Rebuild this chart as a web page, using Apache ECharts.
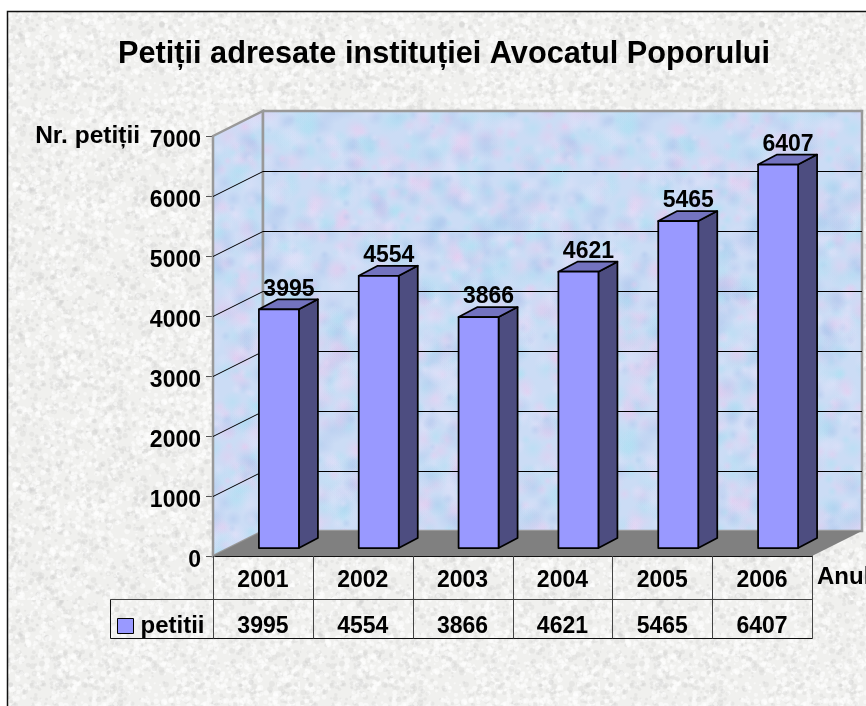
<!DOCTYPE html>
<html>
<head>
<meta charset="utf-8">
<title>Petiții</title>
<script src="https://cdn.jsdelivr.net/npm/echarts@6/dist/echarts.min.js"></script>
<style>
  html, body { margin: 0; padding: 0; background: #fff; overflow: hidden; }
  #chart { width: 866px; height: 706px; }
</style>
</head>
<body>
<div id="chart"></div>
<script>
// values
const years = ['2001', '2002', '2003', '2004', '2005', '2006']
const petitii = [3995, 4554, 3866, 4621, 5465, 6407]
const gridTicks = [1000, 2000, 3000, 4000, 5000, 6000]

const FONT = '"Liberation Sans", Arial, sans-serif'
// depth of the 3d box, px
const DEPTH_X = 50
const DEPTH_Y = 25

// textures are plain decoration, a fixed LCG keeps them the same on every run
function makeRand(seed) {
  let s = seed
  return () => {
    s = (s * 1664525 + 1013904223) % 4294967296
    return s / 4294967296
  }
}

function paperTexture() {
  const rand = makeRand(7)
  const c = document.createElement('canvas')
  c.width = c.height = 300
  const ctx = c.getContext('2d')
  ctx.fillStyle = '#f0f0ee'
  ctx.fillRect(0, 0, 300, 300)
  for (let i = 0; i < 5000; i++) {
    const x = rand() * 300
    const y = rand() * 300
    const r = 1 + rand() * 2
    ctx.fillStyle = rand() > 0.45 ? 'rgba(255,255,255,0.5)' : 'rgba(205,205,203,0.28)'
    ctx.beginPath()
    ctx.arc(x, y, r, 0, 6.3)
    ctx.fill()
  }
  return c
}

function wallTexture() {
  const rand = makeRand(23)
  const size = 320
  const c = document.createElement('canvas')
  c.width = c.height = size
  const ctx = c.getContext('2d')
  ctx.fillStyle = '#cbdcf5'
  ctx.fillRect(0, 0, size, size)
  const tints = ['170,225,242', '235,200,238', '170,195,235', '230,226,250']
  for (let i = 0; i < 1100; i++) {
    const x = rand() * size
    const y = rand() * size
    const r = 4 + rand() * 11
    const t = tints[Math.floor(rand() * tints.length)]
    // draw wrapped so the tile has no seam
    for (const ox of [-size, 0, size]) {
      for (const oy of [-size, 0, size]) {
        const g = ctx.createRadialGradient(x + ox, y + oy, 0, x + ox, y + oy, r)
        g.addColorStop(0, 'rgba(' + t + ',0.42)')
        g.addColorStop(1, 'rgba(' + t + ',0)')
        ctx.fillStyle = g
        ctx.fillRect(x + ox - r, y + oy - r, r * 2, r * 2)
      }
    }
  }
  return c
}

const paper = { image: paperTexture(), repeat: 'repeat' }
const wall = { image: wallTexture(), repeat: 'repeat' }

const chart = echarts.init(document.getElementById('chart'), null, { renderer: 'canvas' })

// side wall, back wall and floor, built from the axis scale
function renderWalls(params, api) {
  const top = api.coord([0, 7000])
  const zero = api.coord([0, 0])
  const g = params.coordSys
  const l = g.x
  const r = g.x + g.width
  const edge = { stroke: '#999999', lineWidth: 2.5 }
  return {
    type: 'group',
    children: [
      { type: 'polygon', shape: { points: [[l, top[1]], [l + DEPTH_X, top[1] - DEPTH_Y], [l + DEPTH_X, zero[1] - DEPTH_Y], [l, zero[1]]] }, style: { fill: wall, ...edge } },
      { type: 'rect', shape: { x: l + DEPTH_X, y: top[1] - DEPTH_Y, width: g.width, height: zero[1] - top[1] }, style: { fill: wall, ...edge } },
      { type: 'polygon', shape: { points: [[l, zero[1]], [r, zero[1]], [r + DEPTH_X, zero[1] - DEPTH_Y], [l + DEPTH_X, zero[1] - DEPTH_Y]] }, style: { fill: '#808080' } }
    ]
  }
}

function renderGridLine(params, api) {
  // half pixel so the back wall lines stay one crisp black row
  const y = Math.round(api.coord([0, api.value(1)])[1]) + 0.5
  const g = params.coordSys
  return {
    type: 'polyline',
    shape: { points: [[g.x, y], [g.x + DEPTH_X, y - DEPTH_Y], [g.x + g.width + DEPTH_X, y - DEPTH_Y]] },
    style: { stroke: '#000', lineWidth: 1, fill: null }
  }
}

function renderBar(params, api) {
  const p = api.coord([api.value(0), api.value(1)])
  const zero = api.coord([api.value(0), 0])[1] - 8
  const x = p[0] + 16 - 20
  const w = 40
  const y = p[1] - 7
  const dx = 19
  const dy = 10
  const line = { stroke: '#000', lineWidth: 1.75, lineJoin: 'round' }
  return {
    type: 'group',
    children: [
      { type: 'polygon', shape: { points: [[x + w, y], [x + w + dx, y - dy], [x + w + dx, zero - dy], [x + w, zero]] }, style: { fill: '#4d4d80', ...line } },
      { type: 'polygon', shape: { points: [[x, y], [x + dx, y - dy], [x + w + dx, y - dy], [x + w, y]] }, style: { fill: '#7373bf', ...line } },
      { type: 'rect', shape: { x, y, width: w, height: zero - y }, style: { fill: '#9999ff', ...line } },
      { type: 'text', x: p[0] + 26, y: y - 20, style: { text: String(api.value(1)), font: 'bold 23px ' + FONT, fill: '#000', align: 'center', verticalAlign: 'middle' } }
    ]
  }
}

// data table under the axis
function renderTableCell(params, api) {
  const i = api.value(0)
  const band = api.size([1, 0])[0]
  const c = api.coord([i, 0])
  const left = Math.round(c[0] - band / 2) + 0.5
  const right = Math.round(c[0] + band / 2) + 0.5
  const zero = c[1]
  const rowA = zero + 43.5
  const rowB = zero + 82.5
  const s = { stroke: '#444', lineWidth: 1 }
  const dark = { stroke: '#111', lineWidth: 1 }
  const children = [
    { type: 'line', shape: { x1: left, y1: zero, x2: left, y2: rowB }, style: s },
    { type: 'line', shape: { x1: right, y1: zero, x2: right, y2: rowB }, style: s },
    { type: 'line', shape: { x1: left, y1: rowA, x2: right, y2: rowA }, style: s },
    { type: 'line', shape: { x1: left, y1: rowB, x2: right, y2: rowB }, style: dark },
    { type: 'text', x: c[0], y: zero + 71, style: { text: String(api.value(1)), font: 'bold 23px ' + FONT, fill: '#000', align: 'center', verticalAlign: 'middle' } }
  ]
  if (i === 0) {
    children.push(
      { type: 'line', shape: { x1: 110.5, y1: rowA, x2: left, y2: rowA }, style: s },
      { type: 'line', shape: { x1: 110.5, y1: rowB, x2: left, y2: rowB }, style: dark },
      { type: 'line', shape: { x1: 110.5, y1: rowA, x2: 110.5, y2: rowB }, style: dark }
    )
  }
  return { type: 'group', children }
}

chart.setOption({
  animation: false,
  backgroundColor: '#fff',
  graphic: [
    { type: 'rect', z: -10, shape: { x: 8, y: 12, width: 858, height: 694 }, style: { fill: paper } },
    { type: 'polyline', z: -9, shape: { points: [[7.5, 706], [7.5, 11.5], [866, 11.5]] }, style: { stroke: '#111', lineWidth: 1.5, fill: null } }
  ],
  title: {
    text: 'Petiții adresate instituției Avocatul Poporului',
    left: 439,
    top: 34,
    textAlign: 'center',
    textStyle: { fontFamily: FONT, fontWeight: 'bold', fontSize: 30.7, color: '#000' }
  },
  legend: {
    data: ['petitii'],
    left: 117,
    top: 614,
    padding: 0,
    icon: 'rect',
    itemWidth: 16,
    itemHeight: 15,
    textStyle: { fontFamily: FONT, fontWeight: 'bold', fontSize: 24, color: '#000', padding: [0, 0, 0, 2] },
    itemStyle: { color: '#9999ff', borderColor: '#000', borderWidth: 1 }
  },
  grid: { left: 213, right: 54, top: 136, bottom: 150, outerBoundsMode: 'none' },
  xAxis: {
    type: 'category',
    data: years,
    name: 'Anul',
    nameLocation: 'end',
    nameGap: 5,
    nameMoveOverlap: false,
    nameTextStyle: { fontFamily: FONT, fontWeight: 'bold', fontSize: 24, color: '#000', verticalAlign: 'top', padding: [9, 0, 0, 0] },
    axisLine: { show: true, lineStyle: { color: '#111', width: 2 } },
    axisTick: { show: false },
    axisLabel: { margin: 13, fontFamily: FONT, fontWeight: 'bold', fontSize: 23, color: '#000' }
  },
  yAxis: {
    type: 'value',
    min: 0,
    max: 7000,
    interval: 1000,
    name: 'Nr. petiții',
    nameLocation: 'end',
    nameGap: 0,
    nameMoveOverlap: false,
    nameTextStyle: { fontFamily: FONT, fontWeight: 'bold', fontSize: 24.5, color: '#000', align: 'right', verticalAlign: 'middle', padding: [0, 73, 0, 0] },
    axisLine: { show: true, lineStyle: { color: '#333', width: 1 } },
    axisTick: { show: true, length: 7, lineStyle: { color: '#555' } },
    // labels sit a little below their tick, a short top aligned line box does that
    axisLabel: { margin: 12, verticalAlign: 'top', lineHeight: 10, formatter: v => String(v), fontFamily: FONT, fontWeight: 'bold', fontSize: 23, color: '#000' },
    splitLine: { show: false }
  },
  series: [
    { type: 'custom', name: 'walls', silent: true, z: 1, renderItem: renderWalls, data: [[0, 0]] },
    { type: 'custom', name: 'grid', silent: true, z: 2, renderItem: renderGridLine, data: gridTicks.map(v => [0, v]) },
    { type: 'custom', name: 'table', silent: true, z: 3, renderItem: renderTableCell, data: petitii.map((v, i) => [i, v]) },
    { type: 'custom', name: 'petitii', z: 4, itemStyle: { color: '#9999ff' }, renderItem: renderBar, encode: { x: 0, y: 1 }, data: petitii.map((v, i) => [i, v]) }
  ]
})
</script>
</body>
</html>
